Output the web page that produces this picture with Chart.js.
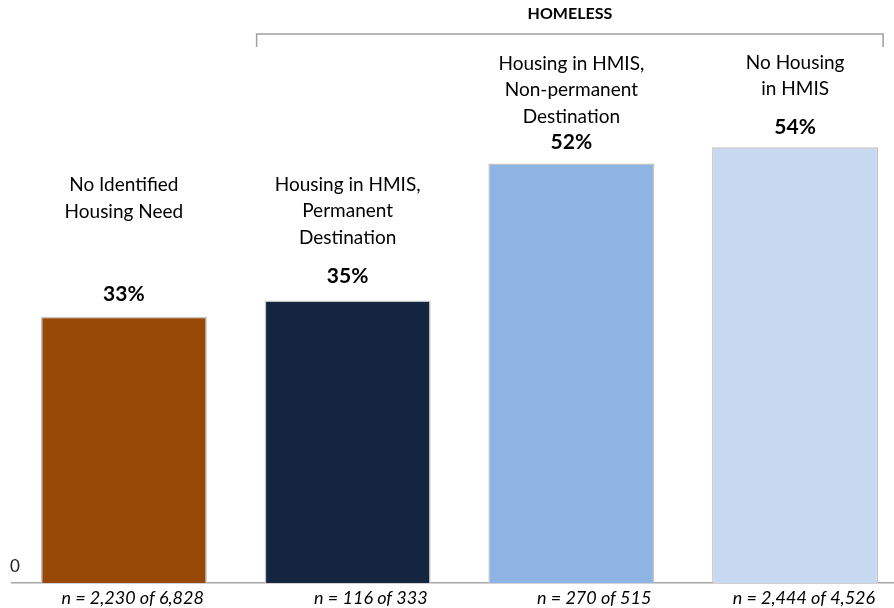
<!DOCTYPE html>
<html>
<head>
<meta charset="utf-8">
<script src="https://cdn.jsdelivr.net/npm/chart.js@4.4.1/dist/chart.umd.min.js"></script>
<style>
  html, body { margin: 0; padding: 0; background: #fff; overflow: hidden; }
  #wrap { position: relative; width: 910px; height: 608px; }
</style>
</head>
<body>
<div id="wrap"><canvas id="c"></canvas></div>
<script>
const categories = [
  ['No Identified', 'Housing Need'],
  ['Housing in HMIS,', 'Permanent', 'Destination'],
  ['Housing in HMIS,', 'Non-permanent', 'Destination'],
  ['No Housing', 'in HMIS'],
];
const counts = ['n = 2,230 of 6,828', 'n = 116 of 333', 'n = 270 of 515', 'n = 2,444 of 4,526'];
const values = [33, 35, 52, 54];
const colors = ['#984807', '#14253F', '#8EB4E3', '#C6D9F1'];
const groupTitle = 'HOMELESS';

// label placement (px): percent label above bar top, category text above percent label
const pctLift = [22, 24, 21, 20];
const nameGap = [83, 39, 26, 38];
const lineH = 26.5;

const FONT = 'Lato, "Noto Sans", sans-serif';

const labelsPlugin = {
  id: 'labels',
  afterDatasetsDraw(chart) {
    const { ctx, scales: { x, y } } = chart;
    const meta = chart.getDatasetMeta(0);
    const base = y.getPixelForValue(0);
    ctx.save();
    ctx.textAlign = 'center';
    ctx.textBaseline = 'middle';
    ctx.fillStyle = '#000';
    meta.data.forEach((bar, i) => {
      const cx = bar.x;
      const pctY = y.getPixelForValue(values[i]) - pctLift[i];
      ctx.textAlign = 'center';
      ctx.font = 'bold 21px ' + FONT;
      ctx.fillText(values[i] + '%', cx, pctY);
      ctx.font = '19px ' + FONT;
      const lines = categories[i];
      lines.forEach((t, j) => {
        const ly = pctY - nameGap[i] - (lines.length - 1 - j) * lineH;
        ctx.fillText(t, cx, ly);
      });
      // n = ... under the axis, right-aligned to the bar
      ctx.textAlign = 'right';
      ctx.font = 'italic 18px ' + FONT;
      ctx.fillText(counts[i], cx + bar.width / 2 - 3, base + 15);
    });
    // "0" at the baseline
    ctx.textAlign = 'center';
    ctx.font = '17px ' + FONT;
    ctx.fillStyle = '#222';
    ctx.fillText('0', 15, base - 16);
    // HOMELESS bracket over bars 2-4
    const b1 = meta.data[1], b3 = meta.data[3];
    const left = b1.x - b1.width / 2 - 8, right = b3.x + b3.width / 2 + 5;
    ctx.strokeStyle = '#a0a0a0';
    ctx.lineWidth = 1.5;
    ctx.beginPath();
    ctx.moveTo(left, 47); ctx.lineTo(left, 34); ctx.lineTo(right, 34); ctx.lineTo(right, 47);
    ctx.stroke();
    ctx.font = 'bold 16px ' + FONT;
    ctx.fillStyle = '#000';
    ctx.fillText(groupTitle, (left + right) / 2, 14);
    ctx.restore();
  }
};

new Chart(document.getElementById('c'), {
  type: 'bar',
  data: {
    labels: counts,
    datasets: [{
      data: values,
      backgroundColor: colors,
      borderColor: '#c4c4c4',
      borderWidth: 1.5,
      borderSkipped: 'bottom',
      barPercentage: 0.742,
      categoryPercentage: 1,
    }],
  },
  options: {
    responsive: true,
    maintainAspectRatio: false,
    animation: false,
    devicePixelRatio: 1,
    layout: { padding: { left: 12, right: 3, top: 2, bottom: 0 } },
    plugins: { legend: { display: false }, tooltip: { enabled: false } },
    scales: {
      x: {
        grid: { display: true, drawOnChartArea: false, drawTicks: false },
        border: { display: true, color: '#a6a6a6', width: 1.5 },
        ticks: { display: false },
        afterFit(s) { s.height = 25; },
      },
      y: {
        display: false,
        min: 0,
        max: 72,
      },
    },
  },
  plugins: [labelsPlugin],
});
</script>
</body>
</html>
